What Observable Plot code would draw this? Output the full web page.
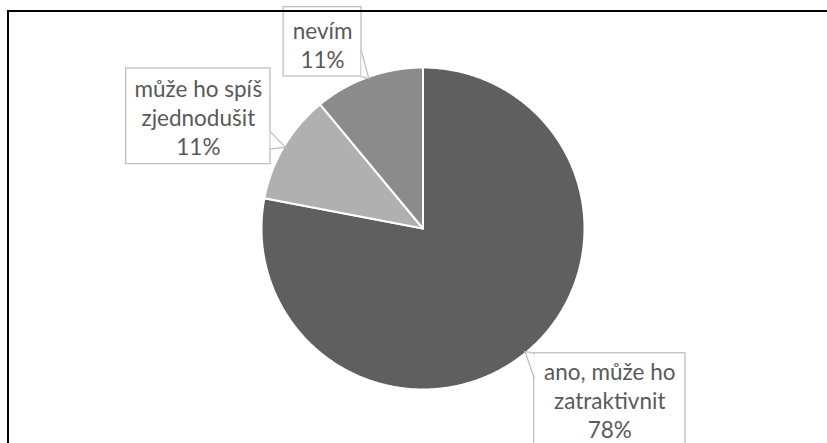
<!DOCTYPE html>
<html><head><meta charset="utf-8">
<script src="https://cdn.jsdelivr.net/npm/d3@7"></script>
<script src="https://cdn.jsdelivr.net/npm/@observablehq/plot@0.6"></script>
<style>
body{margin:0;background:#fff}
#wrap{position:relative;width:827px;height:443px;overflow:hidden}
#frame{position:absolute;left:7px;top:10px;width:900px;height:500px;border-top:2px solid #000;border-left:2px solid #000;pointer-events:none}
</style>
</head><body>
<div id="wrap"><div id="chart"></div><div id="frame"></div></div>
<script>
// ---- data ----
const categories = ["ano, může ho zatraktivnit", "může ho spíš zjednodušit", "nevím"];
const values = [78, 11, 11];
const percentLabels = ["78%", "11%", "11%"];
const labelLines = [["ano, může ho", "zatraktivnit"], ["může ho spíš", "zjednodušit"], ["nevím"]];
const sliceColors = ["#5f5f5f", "#b0b0b0", "#8b8b8b"];

// ---- callout layout (in pie-radius units) ----
const layout = [
  {box: [0.688, 1.625, -1.45, -0.775], base: [[0.688, -0.775], [0.688, -0.925]], textY: -1.064},
  {box: [-1.838, -0.944, 0.4, 0.994], base: [[-0.944, 0.6], [-0.944, 0.494]], textY: 0.694},
  {box: [-0.863, -0.381, 0.944, 1.375], base: [[-0.381, 1.1], [-0.381, 0.944]], textY: 1.144}
];

const arcs = d3.pie().sort(null)(values);
const slicePts = arcs.flatMap((a, i) => {
  const pts = [{cat: categories[i], x: 0, y: 0}];
  const n = Math.max(2, Math.ceil((a.endAngle - a.startAngle) / (Math.PI / 360)));
  for (let k = 0; k <= n; k++) {
    const t = a.startAngle + (a.endAngle - a.startAngle) * k / n;
    pts.push({cat: categories[i], x: Math.sin(t), y: Math.cos(t)});
  }
  return pts;
});

const boxes = layout.map((l, i) => ({x1: l.box[0], x2: l.box[1], y1: l.box[2], y2: l.box[3], cat: categories[i]}));
const pointerPts = arcs.flatMap((a, i) => {
  const m = (a.startAngle + a.endAngle) / 2;
  const b = layout[i].base;
  return [
    {cat: categories[i], x: b[0][0], y: b[0][1]},
    {cat: categories[i], x: Math.sin(m) * 0.99, y: Math.cos(m) * 0.99},
    {cat: categories[i], x: b[1][0], y: b[1][1]}
  ];
});
const labelData = categories.map((c, i) => ({
  x: (layout[i].box[0] + layout[i].box[1]) / 2,
  y: layout[i].textY,
  text: [...labelLines[i], percentLabels[i]].join("\n")
}));

const chart = Plot.plot({
  width: 827, height: 443,
  marginLeft: 261, marginRight: 243, marginTop: 67, marginBottom: 54,
  x: {domain: [-1, 1], axis: null},
  y: {domain: [-1, 1], axis: null},
  color: {domain: categories, range: sliceColors},
  style: {fontFamily: "Lato, 'Open Sans', sans-serif", background: "#fff", overflow: "visible"},
  marks: [
    Plot.line(slicePts, {x: "x", y: "y", z: "cat", fill: "cat", stroke: "#fff", strokeWidth: 2, curve: "linear-closed"}),
    Plot.rect(boxes, {x1: "x1", x2: "x2", y1: "y1", y2: "y2", fill: "#fff", stroke: "#bfbfbf", strokeWidth: 1.3}),
    Plot.line(pointerPts, {x: "x", y: "y", z: "cat", fill: "#fff", stroke: "#bfbfbf", strokeWidth: 1.3, curve: "linear"}),
    Plot.text(labelData, {x: "x", y: "y", text: "text", lineAnchor: "middle", textAnchor: "middle", fontSize: 22.5, lineHeight: 1.29, fill: "#595959"})
  ]
});
document.getElementById("chart").appendChild(chart);
</script>
</body></html>
